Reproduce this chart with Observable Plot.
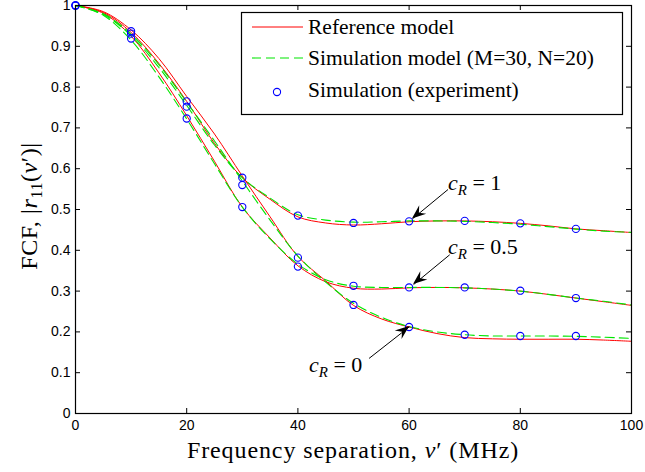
<!DOCTYPE html>
<html><head><meta charset="utf-8">
<script src="https://cdn.jsdelivr.net/npm/d3@7"></script>
<script src="https://cdn.jsdelivr.net/npm/@observablehq/plot@0.6"></script>
<style>body{margin:0;background:#fff} #chart svg{display:block}</style>
</head><body><div id="chart"></div>
<script>
// ---- data ----
const freq = [0,5,10,15,20,25,30,35,40,45,50,55,60,65,70,75,80,85,90,95,100];
const refC0  = [1,0.985,0.940,0.870,0.777,0.685,0.582,0.482,0.385,0.325,0.265,0.232,0.212,0.196,0.186,0.183,0.182,0.182,0.182,0.180,0.177];
const refC05 = [1,0.981,0.925,0.835,0.730,0.618,0.506,0.430,0.362,0.323,0.307,0.305,0.308,0.309,0.308,0.305,0.300,0.292,0.283,0.274,0.265];
const refC1  = [1,0.983,0.934,0.858,0.765,0.662,0.578,0.525,0.482,0.467,0.462,0.465,0.470,0.472,0.472,0.470,0.466,0.460,0.4525,0.448,0.4436];
const simC0  = [1,0.980,0.930,0.855,0.763,0.668,0.570,0.474,0.386,0.322,0.270,0.236,0.213,0.200,0.193,0.190,0.190,0.190,0.189,0.187,0.184];
const simC05 = [1,0.976,0.915,0.825,0.722,0.612,0.506,0.428,0.366,0.328,0.312,0.309,0.309,0.309,0.308,0.305,0.300,0.292,0.283,0.275,0.266];
const simC1  = [1,0.978,0.926,0.848,0.755,0.658,0.578,0.528,0.487,0.474,0.469,0.470,0.472,0.472,0.471,0.468,0.464,0.458,0.452,0.447,0.444];
const freqExp = [0,10,20,30,40,50,60,70,80,90];
const expC0  = [1,0.937,0.765,0.560,0.382,0.266,0.212,0.193,0.190,0.190];
const expC05 = [1,0.919,0.723,0.506,0.360,0.313,0.309,0.309,0.301,0.283];
const expC1  = [1,0.931,0.752,0.578,0.485,0.467,0.471,0.472,0.466,0.4525];
const cRValues = ["0","0.5","1"];
// annotations (data units)
const annLabels = ["1","0.5","0"];
const annTextX = [67.0,67.0,42.0];
const annTextY = [0.566,0.408,0.118];
const annX1 = [67.0,67.3,52.8];
const annY1 = [0.549,0.389,0.135];
const annX2 = [60.6,60.8,60.1];
const annY2 = [0.477,0.316,0.213];
const xTicks = [0,20,40,60,80,100];
const xTickLabels = ["0","20","40","60","80","100"];
const yTicks = [0,0.1,0.2,0.3,0.4,0.5,0.6,0.7,0.8,0.9,1];
const yTickLabels = ["0","0.1","0.2","0.3","0.4","0.5","0.6","0.7","0.8","0.9","1"];
const legendLabels = ["Reference model","Simulation model (M=30, N=20)","Simulation (experiment)"];

// ---- tables ----
const refRows = [], simRows = [], expRows = [];
[refC0, refC05, refC1].forEach((ys, k) => ys.forEach((y, i) => refRows.push({cR: cRValues[k], x: freq[i], y})));
[simC0, simC05, simC1].forEach((ys, k) => ys.forEach((y, i) => simRows.push({cR: cRValues[k], x: freq[i], y})));
[expC0, expC05, expC1].forEach((ys, k) => ys.forEach((y, i) => expRows.push({cR: cRValues[k], x: freqExp[i], y})));
const annRows = annLabels.map((l, i) => ({label: l, tx: annTextX[i], ty: annTextY[i], x1: annX1[i], y1: annY1[i], x2: annX2[i], y2: annY2[i]}));

const W = 645, H = 472, mL = 75, mR = 14, mT = 5, mB = 59;
const fw = W - mL - mR, fh = H - mT - mB;
const serif = "Liberation Serif";

const plot = Plot.plot({
  width: W, height: H, marginLeft: mL, marginRight: mR, marginTop: mT, marginBottom: mB,
  style: {background: "white", fontFamily: "'Liberation Sans', Arial, sans-serif", fontSize: "14px", color: "black", overflow: "visible"},
  x: {domain: [0, 100]},
  y: {domain: [0, 1]},
  marks: [
    Plot.axisX(xTicks, {tickSize: 0, tickPadding: 7, label: null, fontSize: 14, fill: "black", tickFormat: d => xTickLabels[xTicks.indexOf(d)]}),
    Plot.axisY(yTicks, {tickSize: 0, tickPadding: 5, label: null, fontSize: 14, fill: "black", tickFormat: d => yTickLabels[yTicks.indexOf(d)]}),
    Plot.tickX(xTicks, {x: d => d, insetTop: fh - 5, stroke: "black"}),
    Plot.tickX(xTicks, {x: d => d, insetBottom: fh - 5, stroke: "black"}),
    Plot.tickY(yTicks, {y: d => d, insetRight: fw - 5, stroke: "black"}),
    Plot.tickY(yTicks, {y: d => d, insetLeft: fw - 5, stroke: "black"}),
    Plot.line(refRows, {x: "x", y: "y", z: "cR", stroke: "#ff0000", strokeWidth: 1, curve: "catmull-rom"}),
    Plot.line(simRows, {x: "x", y: "y", z: "cR", stroke: "#00e600", strokeWidth: 1.1, strokeDasharray: "9,5", curve: "catmull-rom"}),
    Plot.dot(expRows, {x: "x", y: "y", r: 3.6, stroke: "#0000ff", fill: "none", strokeWidth: 1.1}),
    Plot.link(annRows, {x1: "x1", y1: "y1", x2: "x2", y2: "y2", stroke: "black", strokeWidth: 1}),
    Plot.text(annRows, {x: "tx", y: "ty", text: d => "c_R = " + d.label, textAnchor: "start", fontFamily: serif, fontSize: 22, fill: "black", className: "ann"}),
    Plot.frame({stroke: "black", strokeWidth: 1.2})
  ]
});
document.getElementById("chart").appendChild(plot);

const svg = d3.select(plot);
const sx = plot.scale("x"), sy = plot.scale("y");

// rich annotation text: italic c with subscript R
svg.selectAll("g.ann text").each(function(_, i) {
  const t = d3.select(this);
  t.text(null);
  t.append("tspan").attr("font-style", "italic").text("c");
  t.append("tspan").attr("font-style", "italic").attr("font-size", 15).attr("dy", 5).text("R");
  t.append("tspan").attr("dy", -5).text(" = " + annLabels[i]);
});

// filled arrowheads
annRows.forEach(d => {
  const p1 = [sx.apply(d.x1), sy.apply(d.y1)], p2 = [sx.apply(d.x2), sy.apply(d.y2)];
  const dx = p2[0] - p1[0], dy = p2[1] - p1[1], len = Math.hypot(dx, dy);
  const u = [dx / len, dy / len], n = [-u[1], u[0]];
  const L = 14, w = 5.5, notch = 9;
  const pts = [
    p2,
    [p2[0] - u[0] * L + n[0] * w, p2[1] - u[1] * L + n[1] * w],
    [p2[0] - u[0] * notch, p2[1] - u[1] * notch],
    [p2[0] - u[0] * L - n[0] * w, p2[1] - u[1] * L - n[1] * w]
  ];
  svg.append("path").attr("d", "M" + pts.map(p => p.join(",")).join("L") + "Z").attr("fill", "black");
});

// axis labels
const xl = svg.append("text").attr("x", mL + fw / 2).attr("y", 458).attr("text-anchor", "middle")
  .style("font-family", serif).attr("font-size", 24).attr("letter-spacing", 0.9).attr("fill", "black");
xl.append("tspan").text("Frequency separation, ");
xl.append("tspan").attr("font-style", "italic").text("ν");
xl.append("tspan").text("′ (MHz)");

const yl = svg.append("text").attr("transform", `translate(37,${mT + fh / 2 - 3}) rotate(-90)`).attr("text-anchor", "middle")
  .style("font-family", serif).attr("font-size", 24).attr("letter-spacing", 0.6).attr("fill", "black");
yl.append("tspan").text("FCF, |");
yl.append("tspan").attr("font-style", "italic").text("r");
yl.append("tspan").attr("font-size", 16).attr("dy", 5).text("11");
yl.append("tspan").attr("dy", -5).text("(");
yl.append("tspan").attr("font-style", "italic").text("ν");
yl.append("tspan").text("′)|");

// legend
const lg = svg.append("g");
lg.append("rect").attr("x", 241.5).attr("y", 12.5).attr("width", 381).attr("height", 102)
  .attr("fill", "white").attr("stroke", "black").attr("stroke-width", 1.2);
lg.append("line").attr("x1", 252).attr("x2", 303).attr("y1", 27).attr("y2", 27).attr("stroke", "#ff0000");
lg.append("line").attr("x1", 252).attr("x2", 303).attr("y1", 58).attr("y2", 58).attr("stroke", "#00e600").attr("stroke-width", 1.1).attr("stroke-dasharray", "9,5");
lg.append("circle").attr("cx", 277).attr("cy", 92).attr("r", 3.6).attr("fill", "none").attr("stroke", "#0000ff").attr("stroke-width", 1.1);
[34, 65, 97].forEach((y, i) => {
  lg.append("text").attr("x", 308).attr("y", y).attr("text-anchor", "start").style("font-family", serif)
    .attr("font-size", 21.5).attr("fill", "black").text(legendLabels[i]);
});
</script>
</body></html>
